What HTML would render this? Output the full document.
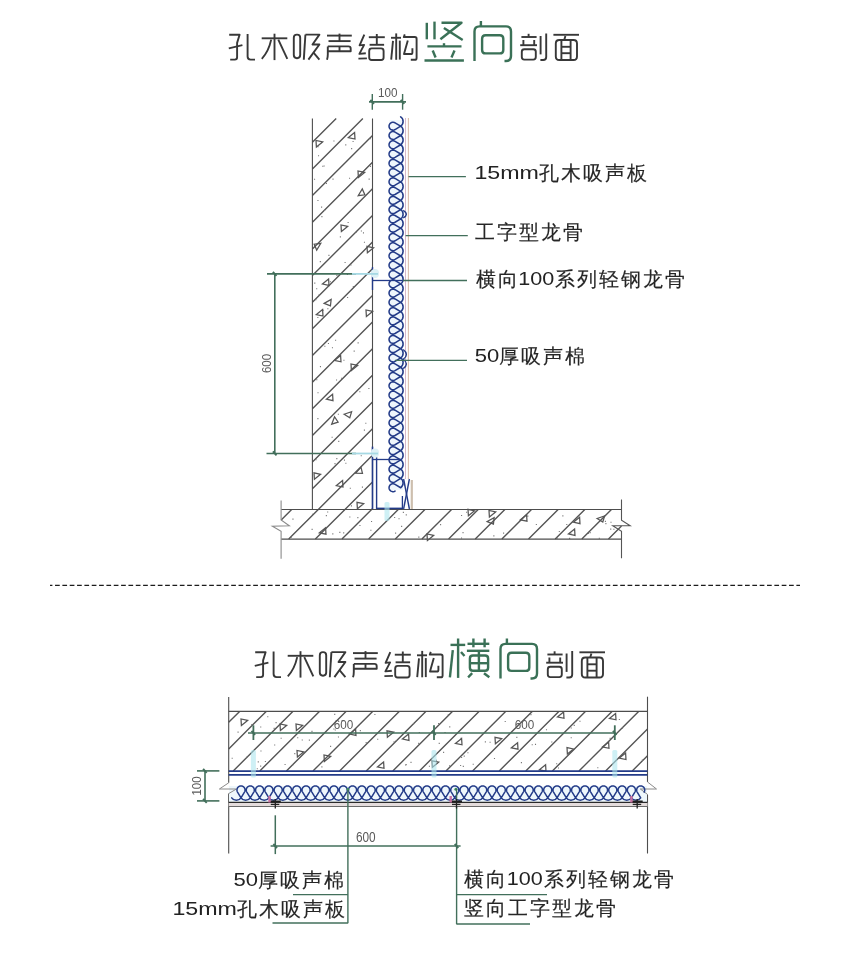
<!DOCTYPE html>
<html><head><meta charset="utf-8"><style>
html,body{margin:0;padding:0;background:#fff;width:850px;height:971px;overflow:hidden}
body{position:relative;font-family:"Liberation Sans",sans-serif}
svg text{font-family:"Liberation Sans",sans-serif}
.t,.t2,.tg{position:absolute;white-space:nowrap;line-height:1}
.t{font-size:29px;color:#3a3a3a;letter-spacing:3px}
.t2{font-size:29px;color:#3a3a3a;letter-spacing:0px}
.tg{font-size:45px;color:#356b52;letter-spacing:3px}
</style></head><body>
<svg width="850" height="971" viewBox="0 0 850 971" style="position:absolute;left:0;top:0;will-change:transform">
<path d="M312.4 142.3L336.2 118.5M312.4 168.95L362.85 118.5M312.4 195.6L372.5 135.5M312.4 222.25L372.5 162.15M312.4 248.9L372.5 188.8M312.4 275.55L372.5 215.45M312.4 302.2L372.5 242.1M312.4 328.85L372.5 268.75M312.4 355.5L372.5 295.4M312.4 382.15L372.5 322.05M312.4 408.8L372.5 348.7M312.4 435.45L372.5 375.35M312.4 462.1L372.5 402M312.4 488.75L372.5 428.65M318.3 509.5L372.5 455.3M344.95 509.5L372.5 481.95M371.6 509.5L372.5 508.6" stroke="#555" stroke-width="1.4" fill="none"/>
<path d="M281.2 519.95L291.65 509.5M288.7 539.1L318.3 509.5M315.35 539.1L344.95 509.5M342 539.1L371.6 509.5M368.65 539.1L398.25 509.5M395.3 539.1L424.9 509.5M421.95 539.1L451.55 509.5M448.6 539.1L478.2 509.5M475.25 539.1L504.85 509.5M501.9 539.1L531.5 509.5M528.55 539.1L558.15 509.5M555.2 539.1L584.8 509.5M581.85 539.1L611.45 509.5M608.5 539.1L621.5 526.1" stroke="#555" stroke-width="1.4" fill="none"/>
<path d="M332.46 178.53h1.1v1.1h-1.1zM351.1 148.11h1.1v1.1h-1.1zM344.55 261.89h1.1v1.1h-1.1zM317.31 316.89h1.1v1.1h-1.1zM316.14 288.25h1.1v1.1h-1.1zM317.98 155.2h1.1v1.1h-1.1zM338.2 440.82h1.1v1.1h-1.1zM321.06 206.62h1.1v1.1h-1.1zM349.76 487.71h1.1v1.1h-1.1zM346.89 273.91h1.1v1.1h-1.1zM369.65 138.07h1.1v1.1h-1.1zM362.93 232.37h1.1v1.1h-1.1zM322.22 165.7h1.1v1.1h-1.1zM331.58 436.66h1.1v1.1h-1.1zM324.3 345.66h1.1v1.1h-1.1zM350.42 264.49h1.1v1.1h-1.1zM345.22 144.36h1.1v1.1h-1.1zM317.4 199.91h1.1v1.1h-1.1zM352.78 285.91h1.1v1.1h-1.1zM331.91 347.2h1.1v1.1h-1.1zM339.83 236.31h1.1v1.1h-1.1zM359.28 391.21h1.1v1.1h-1.1zM327.91 342.88h1.1v1.1h-1.1zM343.94 459.55h1.1v1.1h-1.1zM355.58 231.72h1.1v1.1h-1.1zM369.87 165.81h1.1v1.1h-1.1zM337.83 413.77h1.1v1.1h-1.1zM322.66 309.72h1.1v1.1h-1.1zM316.23 379.27h1.1v1.1h-1.1zM357.58 342.33h1.1v1.1h-1.1zM363.9 241.73h1.1v1.1h-1.1zM353.63 350.62h1.1v1.1h-1.1zM347.05 297.01h1.1v1.1h-1.1zM361.88 486.54h1.1v1.1h-1.1zM341.02 377.69h1.1v1.1h-1.1zM317.46 392.18h1.1v1.1h-1.1zM350.89 505.32h1.1v1.1h-1.1zM360.85 230.42h1.1v1.1h-1.1zM335.99 379.44h1.1v1.1h-1.1zM315.29 299.14h1.1v1.1h-1.1zM323.58 165.43h1.1v1.1h-1.1zM317.36 418.07h1.1v1.1h-1.1zM321.37 216.07h1.1v1.1h-1.1zM336.28 458.11h1.1v1.1h-1.1zM318.59 294.28h1.1v1.1h-1.1zM345.32 462.75h1.1v1.1h-1.1zM360.7 455.23h1.1v1.1h-1.1zM329.87 281.14h1.1v1.1h-1.1zM334.45 463.07h1.1v1.1h-1.1zM368.59 178.56h1.1v1.1h-1.1zM324.04 210h1.1v1.1h-1.1zM327.3 308.17h1.1v1.1h-1.1zM347.58 221.95h1.1v1.1h-1.1zM314.23 282.55h1.1v1.1h-1.1zM335.05 339.74h1.1v1.1h-1.1zM368.33 387.91h1.1v1.1h-1.1zM343.38 359.63h1.1v1.1h-1.1zM352.54 140.95h1.1v1.1h-1.1zM365.27 422.63h1.1v1.1h-1.1zM363.85 429.57h1.1v1.1h-1.1zM336.37 274.8h1.1v1.1h-1.1zM319.9 366.1h1.1v1.1h-1.1zM317.55 146.13h1.1v1.1h-1.1zM325.9 182.97h1.1v1.1h-1.1zM333.38 140.4h1.1v1.1h-1.1zM314.01 178.69h1.1v1.1h-1.1zM319.78 261.08h1.1v1.1h-1.1zM315.45 459.24h1.1v1.1h-1.1zM349 177.64h1.1v1.1h-1.1zM328.38 254.79h1.1v1.1h-1.1z" fill="#777"/>
<path d="M405.72 514.32h1.1v1.1h-1.1zM569.09 537.81h1.1v1.1h-1.1zM440.04 524.06h1.1v1.1h-1.1zM311.94 513.76h1.1v1.1h-1.1zM398.47 518.15h1.1v1.1h-1.1zM562.32 515.36h1.1v1.1h-1.1zM290.78 536.68h1.1v1.1h-1.1zM461.02 514.96h1.1v1.1h-1.1zM466.05 511.73h1.1v1.1h-1.1zM460.97 537.42h1.1v1.1h-1.1zM573.94 529.8h1.1v1.1h-1.1zM371 520.9h1.1v1.1h-1.1zM339.29 531.84h1.1v1.1h-1.1zM462.48 532.03h1.1v1.1h-1.1zM394.1 517.02h1.1v1.1h-1.1zM556.48 537.59h1.1v1.1h-1.1zM570.34 532.76h1.1v1.1h-1.1zM558.78 530.98h1.1v1.1h-1.1zM359.41 524.98h1.1v1.1h-1.1zM402.82 511.78h1.1v1.1h-1.1zM292.41 518.54h1.1v1.1h-1.1zM370.34 529.7h1.1v1.1h-1.1zM605.35 523.08h1.1v1.1h-1.1zM598.78 537.68h1.1v1.1h-1.1zM604.84 520.85h1.1v1.1h-1.1zM357.3 517.12h1.1v1.1h-1.1zM349.29 516.52h1.1v1.1h-1.1zM493.31 535.31h1.1v1.1h-1.1zM566.23 523.95h1.1v1.1h-1.1zM503.05 532.59h1.1v1.1h-1.1zM311.57 528.84h1.1v1.1h-1.1zM589.59 532.12h1.1v1.1h-1.1zM535.8 523.91h1.1v1.1h-1.1zM343.16 532.31h1.1v1.1h-1.1zM395.06 532.62h1.1v1.1h-1.1zM610.45 521.69h1.1v1.1h-1.1zM418.27 536.56h1.1v1.1h-1.1zM527.26 515.59h1.1v1.1h-1.1zM325.81 515.08h1.1v1.1h-1.1zM587.94 532.78h1.1v1.1h-1.1zM332.26 533.32h1.1v1.1h-1.1zM613.36 528.75h1.1v1.1h-1.1zM401.09 525.81h1.1v1.1h-1.1zM327.14 511.38h1.1v1.1h-1.1zM610.19 528.54h1.1v1.1h-1.1z" fill="#777"/>
<line x1="312.4" y1="118.5" x2="312.4" y2="509.5" stroke="#4d4d4d" stroke-width="1.1"/>
<line x1="372.5" y1="118.5" x2="372.5" y2="509.5" stroke="#4d4d4d" stroke-width="1.1"/>
<line x1="281.2" y1="509.5" x2="621.5" y2="509.5" stroke="#4d4d4d" stroke-width="1.2"/>
<line x1="281.2" y1="539.1" x2="621.5" y2="539.1" stroke="#4d4d4d" stroke-width="1.2"/>
<path d="M281.1 500.4V520L289.3 525.8L272.4 526.2L281.1 531.4V558.7" fill="none" stroke="#8a8a8a" stroke-width="1.1"/>
<path d="M621.5 499.4V520.1L630.2 525.8L612.8 525.8L621.5 531.4V558.2" fill="none" stroke="#555" stroke-width="1.1"/>
<polygon points="322.6,141.9 316.4,146.9 316,140.5" fill="none" stroke="#555" stroke-width="1.25" stroke-linejoin="miter"/>
<polygon points="348.4,137.6 354.6,132.6 355,139" fill="none" stroke="#555" stroke-width="1.25" stroke-linejoin="miter"/>
<polygon points="364.6,172.4 358.4,177.4 358,171" fill="none" stroke="#555" stroke-width="1.25" stroke-linejoin="miter"/>
<polygon points="358.16,195.73 362.28,188.92 364.85,194.79" fill="none" stroke="#555" stroke-width="1.25" stroke-linejoin="miter"/>
<polygon points="347.6,226.4 341.4,231.4 341,225" fill="none" stroke="#555" stroke-width="1.25" stroke-linejoin="miter"/>
<polygon points="320.84,243.27 316.72,250.08 314.15,244.21" fill="none" stroke="#555" stroke-width="1.25" stroke-linejoin="miter"/>
<polygon points="373.6,247.8 367.4,252.8 367,246.4" fill="none" stroke="#555" stroke-width="1.25" stroke-linejoin="miter"/>
<polygon points="322.4,284 328.6,279 329,285.4" fill="none" stroke="#555" stroke-width="1.25" stroke-linejoin="miter"/>
<polygon points="324.18,303.35 331.15,299.5 330.43,305.88" fill="none" stroke="#555" stroke-width="1.25" stroke-linejoin="miter"/>
<polygon points="316.4,314.6 322.6,309.6 323,316" fill="none" stroke="#555" stroke-width="1.25" stroke-linejoin="miter"/>
<polygon points="372.6,311.4 366.4,316.4 366,310" fill="none" stroke="#555" stroke-width="1.25" stroke-linejoin="miter"/>
<polygon points="334.4,360.4 340.6,355.4 341,361.8" fill="none" stroke="#555" stroke-width="1.25" stroke-linejoin="miter"/>
<polygon points="357.6,365.4 351.4,370.4 351,364" fill="none" stroke="#555" stroke-width="1.25" stroke-linejoin="miter"/>
<polygon points="326.4,399.2 332.6,394.2 333,400.6" fill="none" stroke="#555" stroke-width="1.25" stroke-linejoin="miter"/>
<polygon points="344.07,414.27 351.61,411.69 349.79,417.85" fill="none" stroke="#555" stroke-width="1.25" stroke-linejoin="miter"/>
<polygon points="331.68,424.19 334.55,416.76 338.1,422.1" fill="none" stroke="#555" stroke-width="1.25" stroke-linejoin="miter"/>
<polygon points="320.6,474.3 314.4,479.3 314,472.9" fill="none" stroke="#555" stroke-width="1.25" stroke-linejoin="miter"/>
<polygon points="336.4,485.6 342.6,480.6 343,487" fill="none" stroke="#555" stroke-width="1.25" stroke-linejoin="miter"/>
<polygon points="355.73,473.2 360.97,467.2 362.48,473.43" fill="none" stroke="#555" stroke-width="1.25" stroke-linejoin="miter"/>
<polygon points="363.6,503.7 357.4,508.7 357,502.3" fill="none" stroke="#555" stroke-width="1.25" stroke-linejoin="miter"/>
<polygon points="319.4,532.8 325.6,527.8 326,534.2" fill="none" stroke="#555" stroke-width="1.25" stroke-linejoin="miter"/>
<polygon points="433.6,535.4 427.4,540.4 427,534" fill="none" stroke="#555" stroke-width="1.25" stroke-linejoin="miter"/>
<polygon points="474.6,510.8 468.4,515.8 468,509.4" fill="none" stroke="#555" stroke-width="1.25" stroke-linejoin="miter"/>
<polygon points="495.6,511.9 489.4,516.9 489,510.5" fill="none" stroke="#555" stroke-width="1.25" stroke-linejoin="miter"/>
<polygon points="487.18,521.55 494.15,517.7 493.43,524.08" fill="none" stroke="#555" stroke-width="1.25" stroke-linejoin="miter"/>
<polygon points="520.4,519.8 526.6,514.8 527,521.2" fill="none" stroke="#555" stroke-width="1.25" stroke-linejoin="miter"/>
<polygon points="573.4,522.2 579.6,517.2 580,523.6" fill="none" stroke="#555" stroke-width="1.25" stroke-linejoin="miter"/>
<polygon points="568.4,534 574.6,529 575,535.4" fill="none" stroke="#555" stroke-width="1.25" stroke-linejoin="miter"/>
<polygon points="597.07,518.47 604.61,515.89 602.79,522.05" fill="none" stroke="#555" stroke-width="1.25" stroke-linejoin="miter"/>
<rect x="389.5" y="120" width="13.5" height="370" fill="#eef6fc"/>
<path d="M400.65 126.2L395.04 129.58L394.2 129.96L393.29 130.14L392.36 130.1L391.47 129.84L390.67 129.39L389.99 128.76L389.48 127.99L389.16 127.12L389.05 126.2L389.16 125.28L389.48 124.41L389.99 123.64L390.67 123.01L391.47 122.56L392.36 122.3L393.29 122.26L394.2 122.44L395.04 122.82L400.65 126.2M400.65 135.47L395.04 138.85L394.2 139.23L393.29 139.41L392.36 139.37L391.47 139.11L390.67 138.66L389.99 138.03L389.48 137.26L389.16 136.39L389.05 135.47L389.16 134.55L389.48 133.68L389.99 132.91L390.67 132.28L391.47 131.83L392.36 131.57L393.29 131.53L394.2 131.71L395.04 132.09L400.65 135.47M400.65 144.74L395.04 148.12L394.2 148.5L393.29 148.68L392.36 148.64L391.47 148.38L390.67 147.93L389.99 147.3L389.48 146.53L389.16 145.66L389.05 144.74L389.16 143.82L389.48 142.95L389.99 142.18L390.67 141.55L391.47 141.1L392.36 140.84L393.29 140.8L394.2 140.98L395.04 141.36L400.65 144.74M400.65 154.01L395.04 157.39L394.2 157.77L393.29 157.95L392.36 157.91L391.47 157.65L390.67 157.2L389.99 156.57L389.48 155.8L389.16 154.93L389.05 154.01L389.16 153.09L389.48 152.22L389.99 151.45L390.67 150.82L391.47 150.37L392.36 150.11L393.29 150.07L394.2 150.25L395.04 150.63L400.65 154.01M400.65 163.28L395.04 166.66L394.2 167.04L393.29 167.22L392.36 167.18L391.47 166.92L390.67 166.47L389.99 165.84L389.48 165.07L389.16 164.2L389.05 163.28L389.16 162.36L389.48 161.49L389.99 160.72L390.67 160.09L391.47 159.64L392.36 159.38L393.29 159.34L394.2 159.52L395.04 159.9L400.65 163.28M400.65 172.55L395.04 175.93L394.2 176.31L393.29 176.49L392.36 176.45L391.47 176.19L390.67 175.74L389.99 175.11L389.48 174.34L389.16 173.47L389.05 172.55L389.16 171.63L389.48 170.76L389.99 169.99L390.67 169.36L391.47 168.91L392.36 168.65L393.29 168.61L394.2 168.79L395.04 169.17L400.65 172.55M400.65 181.82L395.04 185.2L394.2 185.58L393.29 185.76L392.36 185.72L391.47 185.46L390.67 185.01L389.99 184.38L389.48 183.61L389.16 182.74L389.05 181.82L389.16 180.9L389.48 180.03L389.99 179.26L390.67 178.63L391.47 178.18L392.36 177.92L393.29 177.88L394.2 178.06L395.04 178.44L400.65 181.82M400.65 191.09L395.04 194.47L394.2 194.85L393.29 195.03L392.36 194.99L391.47 194.73L390.67 194.28L389.99 193.65L389.48 192.88L389.16 192.01L389.05 191.09L389.16 190.17L389.48 189.3L389.99 188.53L390.67 187.9L391.47 187.45L392.36 187.19L393.29 187.15L394.2 187.33L395.04 187.71L400.65 191.09M400.65 200.36L395.04 203.74L394.2 204.12L393.29 204.3L392.36 204.26L391.47 204L390.67 203.55L389.99 202.92L389.48 202.15L389.16 201.28L389.05 200.36L389.16 199.44L389.48 198.57L389.99 197.8L390.67 197.17L391.47 196.72L392.36 196.46L393.29 196.42L394.2 196.6L395.04 196.98L400.65 200.36M400.65 209.63L395.04 213.01L394.2 213.39L393.29 213.57L392.36 213.53L391.47 213.27L390.67 212.82L389.99 212.19L389.48 211.42L389.16 210.55L389.05 209.63L389.16 208.71L389.48 207.84L389.99 207.07L390.67 206.44L391.47 205.99L392.36 205.73L393.29 205.69L394.2 205.87L395.04 206.25L400.65 209.63M400.65 218.9L395.04 222.28L394.2 222.66L393.29 222.84L392.36 222.8L391.47 222.54L390.67 222.09L389.99 221.46L389.48 220.69L389.16 219.82L389.05 218.9L389.16 217.98L389.48 217.11L389.99 216.34L390.67 215.71L391.47 215.26L392.36 215L393.29 214.96L394.2 215.14L395.04 215.52L400.65 218.9M400.65 228.17L395.04 231.55L394.2 231.93L393.29 232.11L392.36 232.07L391.47 231.81L390.67 231.36L389.99 230.73L389.48 229.96L389.16 229.09L389.05 228.17L389.16 227.25L389.48 226.38L389.99 225.61L390.67 224.98L391.47 224.53L392.36 224.27L393.29 224.23L394.2 224.41L395.04 224.79L400.65 228.17M400.65 237.44L395.04 240.82L394.2 241.2L393.29 241.38L392.36 241.34L391.47 241.08L390.67 240.63L389.99 240L389.48 239.23L389.16 238.36L389.05 237.44L389.16 236.52L389.48 235.65L389.99 234.88L390.67 234.25L391.47 233.8L392.36 233.54L393.29 233.5L394.2 233.68L395.04 234.06L400.65 237.44M400.65 246.71L395.04 250.09L394.2 250.47L393.29 250.65L392.36 250.61L391.47 250.35L390.67 249.9L389.99 249.27L389.48 248.5L389.16 247.63L389.05 246.71L389.16 245.79L389.48 244.92L389.99 244.15L390.67 243.52L391.47 243.07L392.36 242.81L393.29 242.77L394.2 242.95L395.04 243.33L400.65 246.71M400.65 255.98L395.04 259.36L394.2 259.74L393.29 259.92L392.36 259.88L391.47 259.62L390.67 259.17L389.99 258.54L389.48 257.77L389.16 256.9L389.05 255.98L389.16 255.06L389.48 254.19L389.99 253.42L390.67 252.79L391.47 252.34L392.36 252.08L393.29 252.04L394.2 252.22L395.04 252.6L400.65 255.98M400.65 265.25L395.04 268.63L394.2 269.01L393.29 269.19L392.36 269.15L391.47 268.89L390.67 268.44L389.99 267.81L389.48 267.04L389.16 266.17L389.05 265.25L389.16 264.33L389.48 263.46L389.99 262.69L390.67 262.06L391.47 261.61L392.36 261.35L393.29 261.31L394.2 261.49L395.04 261.87L400.65 265.25M400.65 274.52L395.04 277.9L394.2 278.28L393.29 278.46L392.36 278.42L391.47 278.16L390.67 277.71L389.99 277.08L389.48 276.31L389.16 275.44L389.05 274.52L389.16 273.6L389.48 272.73L389.99 271.96L390.67 271.33L391.47 270.88L392.36 270.62L393.29 270.58L394.2 270.76L395.04 271.14L400.65 274.52M400.65 283.79L395.04 287.17L394.2 287.55L393.29 287.73L392.36 287.69L391.47 287.43L390.67 286.98L389.99 286.35L389.48 285.58L389.16 284.71L389.05 283.79L389.16 282.87L389.48 282L389.99 281.23L390.67 280.6L391.47 280.15L392.36 279.89L393.29 279.85L394.2 280.03L395.04 280.41L400.65 283.79M400.65 293.06L395.04 296.44L394.2 296.82L393.29 297L392.36 296.96L391.47 296.7L390.67 296.25L389.99 295.62L389.48 294.85L389.16 293.98L389.05 293.06L389.16 292.14L389.48 291.27L389.99 290.5L390.67 289.87L391.47 289.42L392.36 289.16L393.29 289.12L394.2 289.3L395.04 289.68L400.65 293.06M400.65 302.33L395.04 305.71L394.2 306.09L393.29 306.27L392.36 306.23L391.47 305.97L390.67 305.52L389.99 304.89L389.48 304.12L389.16 303.25L389.05 302.33L389.16 301.41L389.48 300.54L389.99 299.77L390.67 299.14L391.47 298.69L392.36 298.43L393.29 298.39L394.2 298.57L395.04 298.95L400.65 302.33M400.65 311.6L395.04 314.98L394.2 315.36L393.29 315.54L392.36 315.5L391.47 315.24L390.67 314.79L389.99 314.16L389.48 313.39L389.16 312.52L389.05 311.6L389.16 310.68L389.48 309.81L389.99 309.04L390.67 308.41L391.47 307.96L392.36 307.7L393.29 307.66L394.2 307.84L395.04 308.22L400.65 311.6M400.65 320.87L395.04 324.25L394.2 324.63L393.29 324.81L392.36 324.77L391.47 324.51L390.67 324.06L389.99 323.43L389.48 322.66L389.16 321.79L389.05 320.87L389.16 319.95L389.48 319.08L389.99 318.31L390.67 317.68L391.47 317.23L392.36 316.97L393.29 316.93L394.2 317.11L395.04 317.49L400.65 320.87M400.65 330.14L395.04 333.52L394.2 333.9L393.29 334.08L392.36 334.04L391.47 333.78L390.67 333.33L389.99 332.7L389.48 331.93L389.16 331.06L389.05 330.14L389.16 329.22L389.48 328.35L389.99 327.58L390.67 326.95L391.47 326.5L392.36 326.24L393.29 326.2L394.2 326.38L395.04 326.76L400.65 330.14M400.65 339.41L395.04 342.79L394.2 343.17L393.29 343.35L392.36 343.31L391.47 343.05L390.67 342.6L389.99 341.97L389.48 341.2L389.16 340.33L389.05 339.41L389.16 338.49L389.48 337.62L389.99 336.85L390.67 336.22L391.47 335.77L392.36 335.51L393.29 335.47L394.2 335.65L395.04 336.03L400.65 339.41M400.65 348.68L395.04 352.06L394.2 352.44L393.29 352.62L392.36 352.58L391.47 352.32L390.67 351.87L389.99 351.24L389.48 350.47L389.16 349.6L389.05 348.68L389.16 347.76L389.48 346.89L389.99 346.12L390.67 345.49L391.47 345.04L392.36 344.78L393.29 344.74L394.2 344.92L395.04 345.3L400.65 348.68M400.65 357.95L395.04 361.33L394.2 361.71L393.29 361.89L392.36 361.85L391.47 361.59L390.67 361.14L389.99 360.51L389.48 359.74L389.16 358.87L389.05 357.95L389.16 357.03L389.48 356.16L389.99 355.39L390.67 354.76L391.47 354.31L392.36 354.05L393.29 354.01L394.2 354.19L395.04 354.57L400.65 357.95M400.65 367.22L395.04 370.6L394.2 370.98L393.29 371.16L392.36 371.12L391.47 370.86L390.67 370.41L389.99 369.78L389.48 369.01L389.16 368.14L389.05 367.22L389.16 366.3L389.48 365.43L389.99 364.66L390.67 364.03L391.47 363.58L392.36 363.32L393.29 363.28L394.2 363.46L395.04 363.84L400.65 367.22M400.65 376.49L395.04 379.87L394.2 380.25L393.29 380.43L392.36 380.39L391.47 380.13L390.67 379.68L389.99 379.05L389.48 378.28L389.16 377.41L389.05 376.49L389.16 375.57L389.48 374.7L389.99 373.93L390.67 373.3L391.47 372.85L392.36 372.59L393.29 372.55L394.2 372.73L395.04 373.11L400.65 376.49M400.65 385.76L395.04 389.14L394.2 389.52L393.29 389.7L392.36 389.66L391.47 389.4L390.67 388.95L389.99 388.32L389.48 387.55L389.16 386.68L389.05 385.76L389.16 384.84L389.48 383.97L389.99 383.2L390.67 382.57L391.47 382.12L392.36 381.86L393.29 381.82L394.2 382L395.04 382.38L400.65 385.76M400.65 395.03L395.04 398.41L394.2 398.79L393.29 398.97L392.36 398.93L391.47 398.67L390.67 398.22L389.99 397.59L389.48 396.82L389.16 395.95L389.05 395.03L389.16 394.11L389.48 393.24L389.99 392.47L390.67 391.84L391.47 391.39L392.36 391.13L393.29 391.09L394.2 391.27L395.04 391.65L400.65 395.03M400.65 404.3L395.04 407.68L394.2 408.06L393.29 408.24L392.36 408.2L391.47 407.94L390.67 407.49L389.99 406.86L389.48 406.09L389.16 405.22L389.05 404.3L389.16 403.38L389.48 402.51L389.99 401.74L390.67 401.11L391.47 400.66L392.36 400.4L393.29 400.36L394.2 400.54L395.04 400.92L400.65 404.3M400.65 413.57L395.04 416.95L394.2 417.33L393.29 417.51L392.36 417.47L391.47 417.21L390.67 416.76L389.99 416.13L389.48 415.36L389.16 414.49L389.05 413.57L389.16 412.65L389.48 411.78L389.99 411.01L390.67 410.38L391.47 409.93L392.36 409.67L393.29 409.63L394.2 409.81L395.04 410.19L400.65 413.57M400.65 422.84L395.04 426.22L394.2 426.6L393.29 426.78L392.36 426.74L391.47 426.48L390.67 426.03L389.99 425.4L389.48 424.63L389.16 423.76L389.05 422.84L389.16 421.92L389.48 421.05L389.99 420.28L390.67 419.65L391.47 419.2L392.36 418.94L393.29 418.9L394.2 419.08L395.04 419.46L400.65 422.84M400.65 432.11L395.04 435.49L394.2 435.87L393.29 436.05L392.36 436.01L391.47 435.75L390.67 435.3L389.99 434.67L389.48 433.9L389.16 433.03L389.05 432.11L389.16 431.19L389.48 430.32L389.99 429.55L390.67 428.92L391.47 428.47L392.36 428.21L393.29 428.17L394.2 428.35L395.04 428.73L400.65 432.11M400.65 441.38L395.04 444.76L394.2 445.14L393.29 445.32L392.36 445.28L391.47 445.02L390.67 444.57L389.99 443.94L389.48 443.17L389.16 442.3L389.05 441.38L389.16 440.46L389.48 439.59L389.99 438.82L390.67 438.19L391.47 437.74L392.36 437.48L393.29 437.44L394.2 437.62L395.04 438L400.65 441.38M400.65 450.65L395.04 454.03L394.2 454.41L393.29 454.59L392.36 454.55L391.47 454.29L390.67 453.84L389.99 453.21L389.48 452.44L389.16 451.57L389.05 450.65L389.16 449.73L389.48 448.86L389.99 448.09L390.67 447.46L391.47 447.01L392.36 446.75L393.29 446.71L394.2 446.89L395.04 447.27L400.65 450.65M400.65 459.92L395.04 463.3L394.2 463.68L393.29 463.86L392.36 463.82L391.47 463.56L390.67 463.11L389.99 462.48L389.48 461.71L389.16 460.84L389.05 459.92L389.16 459L389.48 458.13L389.99 457.36L390.67 456.73L391.47 456.28L392.36 456.02L393.29 455.98L394.2 456.16L395.04 456.54L400.65 459.92M400.65 469.19L395.04 472.57L394.2 472.95L393.29 473.13L392.36 473.09L391.47 472.83L390.67 472.38L389.99 471.75L389.48 470.98L389.16 470.11L389.05 469.19L389.16 468.27L389.48 467.4L389.99 466.63L390.67 466L391.47 465.55L392.36 465.29L393.29 465.25L394.2 465.43L395.04 465.81L400.65 469.19M400.65 478.46L395.04 481.84L394.2 482.22L393.29 482.4L392.36 482.36L391.47 482.1L390.67 481.65L389.99 481.02L389.48 480.25L389.16 479.38L389.05 478.46L389.16 477.54L389.48 476.67L389.99 475.9L390.67 475.27L391.47 474.82L392.36 474.56L393.29 474.52L394.2 474.7L395.04 475.08L400.65 478.46M395.04 491.11L394.2 491.49L393.29 491.67L392.36 491.63L391.47 491.37L390.67 490.92L389.99 490.29L389.48 489.52L389.16 488.65L389.05 487.73L389.16 486.81L389.48 485.94L389.99 485.17L390.67 484.54L391.47 484.09L392.36 483.83L393.29 483.79L394.2 483.97L395.04 484.35L400.65 487.73M400.65 116.93C403.92 118.9 403.92 124.23 400.65 126.2M400.65 126.2C403.92 128.17 403.92 133.5 400.65 135.47M400.65 135.47C403.92 137.44 403.92 142.77 400.65 144.74M400.65 144.74C403.92 146.71 403.92 152.04 400.65 154.01M400.65 154.01C403.92 155.98 403.92 161.31 400.65 163.28M400.65 163.28C403.92 165.25 403.92 170.58 400.65 172.55M400.65 172.55C403.92 174.52 403.92 179.85 400.65 181.82M400.65 181.82C403.92 183.79 403.92 189.12 400.65 191.09M400.65 191.09C403.92 193.06 403.92 198.39 400.65 200.36M400.65 200.36C403.92 202.33 403.92 207.66 400.65 209.63M400.65 209.63C403.92 211.6 403.92 216.93 400.65 218.9M400.65 218.9C403.92 220.87 403.92 226.2 400.65 228.17M400.65 228.17C403.92 230.14 403.92 235.47 400.65 237.44M400.65 237.44C403.92 239.41 403.92 244.74 400.65 246.71M400.65 246.71C403.92 248.68 403.92 254.01 400.65 255.98M400.65 255.98C403.92 257.95 403.92 263.28 400.65 265.25M400.65 265.25C403.92 267.22 403.92 272.55 400.65 274.52M400.65 274.52C403.92 276.49 403.92 281.82 400.65 283.79M400.65 283.79C403.92 285.76 403.92 291.09 400.65 293.06M400.65 293.06C403.92 295.03 403.92 300.36 400.65 302.33M400.65 302.33C403.92 304.3 403.92 309.63 400.65 311.6M400.65 311.6C403.92 313.57 403.92 318.9 400.65 320.87M400.65 320.87C403.92 322.84 403.92 328.17 400.65 330.14M400.65 330.14C403.92 332.11 403.92 337.44 400.65 339.41M400.65 339.41C403.92 341.38 403.92 346.71 400.65 348.68M400.65 348.68C403.92 350.65 403.92 355.98 400.65 357.95M400.65 357.95C403.92 359.92 403.92 365.25 400.65 367.22M400.65 367.22C403.92 369.19 403.92 374.52 400.65 376.49M400.65 376.49C403.92 378.46 403.92 383.79 400.65 385.76M400.65 385.76C403.92 387.73 403.92 393.06 400.65 395.03M400.65 395.03C403.92 397 403.92 402.33 400.65 404.3M400.65 404.3C403.92 406.27 403.92 411.6 400.65 413.57M400.65 413.57C403.92 415.54 403.92 420.87 400.65 422.84M400.65 422.84C403.92 424.81 403.92 430.14 400.65 432.11M400.65 432.11C403.92 434.08 403.92 439.41 400.65 441.38M400.65 441.38C403.92 443.35 403.92 448.68 400.65 450.65M400.65 450.65C403.92 452.62 403.92 457.95 400.65 459.92M400.65 459.92C403.92 461.89 403.92 467.22 400.65 469.19M400.65 469.19C403.92 471.16 403.92 476.49 400.65 478.46M400.65 478.46C403.92 480.43 403.92 485.76 400.65 487.73" stroke="#233b88" stroke-width="1.55" fill="none" stroke-linecap="round" stroke-linejoin="round"/>
<line x1="405.5" y1="118" x2="405.5" y2="479" stroke="#d6b8cc" stroke-width="1"/>
<line x1="408.4" y1="118" x2="408.4" y2="479" stroke="#dbbfac" stroke-width="1.1"/>
<path d="M403.2 210.3Q409.6 214.2 403.2 218M403.2 349.5Q409.6 354.4 403.2 359.3Q409.6 364 403.2 368.6" fill="none" stroke="#233b88" stroke-width="1.4"/>
<line x1="372.5" y1="446.6" x2="372.5" y2="509" stroke="#233b88" stroke-width="1.6"/>
<line x1="376.6" y1="457.3" x2="376.6" y2="509" stroke="#233b88" stroke-width="1.4"/>
<line x1="372.5" y1="459.5" x2="401" y2="459.5" stroke="#233b88" stroke-width="1.3"/>
<line x1="376" y1="508.4" x2="402" y2="508.4" stroke="#233b88" stroke-width="1.6"/>
<line x1="402.4" y1="496" x2="402.4" y2="509" stroke="#233b88" stroke-width="1.3"/>
<line x1="403.6" y1="479" x2="409.4" y2="509" stroke="#233b88" stroke-width="1.4"/>
<line x1="409.4" y1="479" x2="403.6" y2="509" stroke="#233b88" stroke-width="1.4"/>
<line x1="411.8" y1="480" x2="411.8" y2="509" stroke="#cdbfae" stroke-width="2.2"/>
<line x1="372.5" y1="267" x2="372.5" y2="290" stroke="#233b88" stroke-width="1.4"/>
<line x1="372.5" y1="280.5" x2="402" y2="280.5" stroke="#233b88" stroke-width="1.3"/>
<rect x="384.5" y="502" width="5" height="19" rx="1.5" fill="#aee6ee" opacity="0.6"/>
<rect x="371" y="269" width="8" height="9" rx="4" fill="#ddf1f6"/>
<rect x="371" y="448.5" width="8" height="9" rx="4" fill="#ddf1f6"/>
<line x1="369" y1="101.9" x2="406" y2="101.9" stroke="#426f5b" stroke-width="1.6"/>
<line x1="372.3" y1="94" x2="372.3" y2="109.7" stroke="#426f5b" stroke-width="1.4"/>
<line x1="402.6" y1="94" x2="402.6" y2="109.7" stroke="#426f5b" stroke-width="1.4"/>
<text x="378" y="97" font-size="12" fill="#5a5a5a" textLength="19.5" lengthAdjust="spacingAndGlyphs">100</text>
<line x1="267" y1="273.9" x2="356" y2="273.9" stroke="#426f5b" stroke-width="1.6"/>
<line x1="352" y1="273.9" x2="378" y2="273.9" stroke="#a6d9e4" stroke-width="1.8"/>
<line x1="266.5" y1="453.5" x2="356" y2="453.5" stroke="#426f5b" stroke-width="1.6"/>
<line x1="352" y1="453.5" x2="378" y2="453.5" stroke="#a6d9e4" stroke-width="1.8"/>
<line x1="274.8" y1="273.9" x2="274.8" y2="453.5" stroke="#426f5b" stroke-width="1.6"/>
<text x="270.7" y="373" font-size="13.5" fill="#5a5a5a" textLength="19" lengthAdjust="spacingAndGlyphs" transform="rotate(-90 270.7 373)">600</text>
<line x1="408.5" y1="176.6" x2="465.9" y2="176.6" stroke="#426f5b" stroke-width="1.3"/>
<line x1="405.6" y1="235.6" x2="467.8" y2="235.6" stroke="#426f5b" stroke-width="1.3"/>
<line x1="403" y1="280.5" x2="467" y2="280.5" stroke="#426f5b" stroke-width="1.3"/>
<line x1="395" y1="360.3" x2="467" y2="360.3" stroke="#426f5b" stroke-width="1.3"/>
<text x="474.4" y="179.4" font-size="18.6" textLength="64.5" lengthAdjust="spacingAndGlyphs" fill="#222">15mm</text><text x="539" y="180.4" font-size="20" letter-spacing="2" fill="#262626" stroke="#262626" stroke-width="0.15">孔木吸声板</text>
<text x="475" y="239.2" font-size="20" letter-spacing="2" fill="#262626" stroke="#262626" stroke-width="0.15">工字型龙骨</text>
<text x="475.5" y="285.7" font-size="20" letter-spacing="2" fill="#262626" stroke="#262626" stroke-width="0.15">横向</text><text x="518.3" y="284.7" font-size="18.6" textLength="36" lengthAdjust="spacingAndGlyphs" fill="#222">100</text><text x="555" y="285.7" font-size="20" letter-spacing="2" fill="#262626" stroke="#262626" stroke-width="0.15">系列轻钢龙骨</text>
<text x="474.8" y="361.8" font-size="18.6" textLength="24.5" lengthAdjust="spacingAndGlyphs" fill="#222">50</text><text x="499" y="362.8" font-size="20" letter-spacing="2" fill="#262626" stroke="#262626" stroke-width="0.15">厚吸声棉</text>
<line x1="50" y1="585.4" x2="800" y2="585.4" stroke="#1c1c1c" stroke-width="1.35" stroke-dasharray="4.7 2.64" stroke-dashoffset="2.3"/>
<path d="M228.7 722.3L239.6 711.4M228.7 748.9L266.2 711.4M233.2 771L292.8 711.4M259.8 771L319.4 711.4M286.4 771L346 711.4M313 771L372.6 711.4M339.6 771L399.2 711.4M366.2 771L425.8 711.4M392.8 771L452.4 711.4M419.4 771L479 711.4M446 771L505.6 711.4M472.6 771L532.2 711.4M499.2 771L558.8 711.4M525.8 771L585.4 711.4M552.4 771L612 711.4M579 771L638.6 711.4M605.6 771L647.5 729.1M632.2 771L647.5 755.7" stroke="#555" stroke-width="1.4" fill="none"/>
<path d="M449.06 765.28h1.1v1.1h-1.1zM410.46 761.82h1.1v1.1h-1.1zM573.68 724.82h1.1v1.1h-1.1zM334.76 729.41h1.1v1.1h-1.1zM330.06 745.84h1.1v1.1h-1.1zM337.9 736.46h1.1v1.1h-1.1zM284.53 763.96h1.1v1.1h-1.1zM377.17 738.66h1.1v1.1h-1.1zM472.67 763.64h1.1v1.1h-1.1zM404.98 764.39h1.1v1.1h-1.1zM438.69 742.78h1.1v1.1h-1.1zM447.78 714.05h1.1v1.1h-1.1zM413.09 723.25h1.1v1.1h-1.1zM231.64 757.75h1.1v1.1h-1.1zM301.7 739.52h1.1v1.1h-1.1zM531.68 744.16h1.1v1.1h-1.1zM365.61 742.03h1.1v1.1h-1.1zM461.06 756.92h1.1v1.1h-1.1zM274.14 744.38h1.1v1.1h-1.1zM333.37 728.51h1.1v1.1h-1.1zM551.26 741.43h1.1v1.1h-1.1zM463.68 755.56h1.1v1.1h-1.1zM609.6 737.82h1.1v1.1h-1.1zM484.81 741.31h1.1v1.1h-1.1zM443.06 751.79h1.1v1.1h-1.1zM418.18 742.86h1.1v1.1h-1.1zM428.86 765.72h1.1v1.1h-1.1zM520.87 762.09h1.1v1.1h-1.1zM621.95 727.54h1.1v1.1h-1.1zM462.76 765.82h1.1v1.1h-1.1zM579.44 720.68h1.1v1.1h-1.1zM280.59 737.76h1.1v1.1h-1.1zM260.18 726.48h1.1v1.1h-1.1zM260.42 750.49h1.1v1.1h-1.1zM556.12 763.23h1.1v1.1h-1.1zM294.25 753.1h1.1v1.1h-1.1zM504.67 721.01h1.1v1.1h-1.1zM597.26 767.18h1.1v1.1h-1.1zM321.35 766.34h1.1v1.1h-1.1zM395.67 740.29h1.1v1.1h-1.1zM641.79 759.62h1.1v1.1h-1.1zM297.17 737.17h1.1v1.1h-1.1zM444.49 731.99h1.1v1.1h-1.1zM311.43 730.84h1.1v1.1h-1.1zM530.41 714.09h1.1v1.1h-1.1zM460.48 737.67h1.1v1.1h-1.1zM237.52 731.56h1.1v1.1h-1.1zM489.55 741.69h1.1v1.1h-1.1zM256.74 768.16h1.1v1.1h-1.1zM557.96 767.41h1.1v1.1h-1.1zM273.59 727.87h1.1v1.1h-1.1zM246.47 756.62h1.1v1.1h-1.1zM342.51 720.26h1.1v1.1h-1.1zM405.66 764.04h1.1v1.1h-1.1zM570.7 727.48h1.1v1.1h-1.1zM292.14 764.47h1.1v1.1h-1.1zM467.37 752.22h1.1v1.1h-1.1zM267.22 716.22h1.1v1.1h-1.1zM516.29 736.82h1.1v1.1h-1.1zM260.12 765.55h1.1v1.1h-1.1zM493.93 757.89h1.1v1.1h-1.1zM264.84 760.95h1.1v1.1h-1.1zM257.71 761.32h1.1v1.1h-1.1zM418.77 731.99h1.1v1.1h-1.1zM460.07 764.89h1.1v1.1h-1.1zM341.43 720.24h1.1v1.1h-1.1zM449.2 726.35h1.1v1.1h-1.1zM275.53 722.04h1.1v1.1h-1.1zM250.96 724.3h1.1v1.1h-1.1zM359.79 730.08h1.1v1.1h-1.1zM545.95 729.24h1.1v1.1h-1.1zM438.04 722.96h1.1v1.1h-1.1zM374.35 714.02h1.1v1.1h-1.1zM334.19 713.86h1.1v1.1h-1.1zM534.96 743.86h1.1v1.1h-1.1zM308.81 739.59h1.1v1.1h-1.1zM618.81 718.95h1.1v1.1h-1.1zM570.67 737.2h1.1v1.1h-1.1zM435.92 759.74h1.1v1.1h-1.1zM393.52 741.37h1.1v1.1h-1.1z" fill="#777"/>
<line x1="228.7" y1="711.4" x2="647.5" y2="711.4" stroke="#4d4d4d" stroke-width="1.1"/>
<line x1="228.7" y1="697" x2="228.7" y2="782.8" stroke="#4d4d4d" stroke-width="1.1"/>
<line x1="228.7" y1="793.6" x2="228.7" y2="853.5" stroke="#4d4d4d" stroke-width="1.1"/>
<line x1="647.5" y1="696.7" x2="647.5" y2="782" stroke="#4d4d4d" stroke-width="1.1"/>
<line x1="647.5" y1="794.4" x2="647.5" y2="853.5" stroke="#4d4d4d" stroke-width="1.1"/>
<polygon points="247.6,720.4 241.4,725.4 241,719" fill="none" stroke="#555" stroke-width="1.25" stroke-linejoin="miter"/>
<polygon points="286.6,725.4 280.4,730.4 280,724" fill="none" stroke="#555" stroke-width="1.25" stroke-linejoin="miter"/>
<polygon points="302.6,725.4 296.4,730.4 296,724" fill="none" stroke="#555" stroke-width="1.25" stroke-linejoin="miter"/>
<polygon points="303.6,751.9 297.4,756.9 297,750.5" fill="none" stroke="#555" stroke-width="1.25" stroke-linejoin="miter"/>
<polygon points="330.6,756.4 324.4,761.4 324,755" fill="none" stroke="#555" stroke-width="1.25" stroke-linejoin="miter"/>
<polygon points="349.4,734 355.6,729 356,735.4" fill="none" stroke="#555" stroke-width="1.25" stroke-linejoin="miter"/>
<polygon points="393.6,732.2 387.4,737.2 387,730.8" fill="none" stroke="#555" stroke-width="1.25" stroke-linejoin="miter"/>
<polygon points="402.4,739 408.6,734 409,740.4" fill="none" stroke="#555" stroke-width="1.25" stroke-linejoin="miter"/>
<polygon points="377.4,766.9 383.6,761.9 384,768.3" fill="none" stroke="#555" stroke-width="1.25" stroke-linejoin="miter"/>
<polygon points="438.6,762.2 432.4,767.2 432,760.8" fill="none" stroke="#555" stroke-width="1.25" stroke-linejoin="miter"/>
<polygon points="557.4,716.9 563.6,711.9 564,718.3" fill="none" stroke="#555" stroke-width="1.25" stroke-linejoin="miter"/>
<polygon points="609.4,718.4 615.6,713.4 616,719.8" fill="none" stroke="#555" stroke-width="1.25" stroke-linejoin="miter"/>
<polygon points="455.4,743.4 461.6,738.4 462,744.8" fill="none" stroke="#555" stroke-width="1.25" stroke-linejoin="miter"/>
<polygon points="501.6,738.7 495.4,743.7 495,737.3" fill="none" stroke="#555" stroke-width="1.25" stroke-linejoin="miter"/>
<polygon points="511.4,747.8 517.6,742.8 518,749.2" fill="none" stroke="#555" stroke-width="1.25" stroke-linejoin="miter"/>
<polygon points="573.6,749 567.4,754 567,747.6" fill="none" stroke="#555" stroke-width="1.25" stroke-linejoin="miter"/>
<polygon points="602.4,746.9 608.6,741.9 609,748.3" fill="none" stroke="#555" stroke-width="1.25" stroke-linejoin="miter"/>
<polygon points="619.4,758.1 625.6,753.1 626,759.5" fill="none" stroke="#555" stroke-width="1.25" stroke-linejoin="miter"/>
<polygon points="539.4,769.8 545.6,764.8 546,771.2" fill="none" stroke="#555" stroke-width="1.25" stroke-linejoin="miter"/>
<line x1="228.7" y1="771.1" x2="647.5" y2="771.1" stroke="#233b88" stroke-width="1.7"/>
<line x1="228.7" y1="774.9" x2="647.5" y2="774.9" stroke="#233b88" stroke-width="1.7"/>
<rect x="229" y="786" width="418" height="16" fill="#eef7fc"/>
<path d="M228.7 782.8L219.4 789L236.4 789L228.7 793.6" fill="none" stroke="#8a8a8a" stroke-width="1"/>
<path d="M647.5 782L656.5 789L640.3 789L647.5 794.4" fill="none" stroke="#8a8a8a" stroke-width="1"/>
<rect x="228.7" y="802.3" width="418.8" height="4.2" fill="#e4dcdc"/>
<line x1="228.7" y1="802.3" x2="647.5" y2="802.3" stroke="#2a2a2a" stroke-width="1.2"/>
<line x1="228.7" y1="806.5" x2="647.5" y2="806.5" stroke="#6a6a6a" stroke-width="1.1"/>
<path d="M241 797.8L244.46 792.1L244.86 791.24L245.04 790.31L245 789.36L244.74 788.44L244.27 787.61L243.63 786.92L242.84 786.39L241.94 786.06L241 785.95L240.06 786.06L239.16 786.39L238.37 786.92L237.73 787.61L237.26 788.44L237 789.36L236.96 790.31L237.14 791.24L237.54 792.1L241 797.8M250.29 797.8L253.76 792.1L254.15 791.24L254.33 790.31L254.29 789.36L254.03 788.44L253.57 787.61L252.92 786.92L252.13 786.39L251.24 786.06L250.29 785.95L249.35 786.06L248.46 786.39L247.67 786.92L247.02 787.61L246.56 788.44L246.3 789.36L246.26 790.31L246.44 791.24L246.83 792.1L250.29 797.8M259.59 797.8L263.05 792.1L263.45 791.24L263.63 790.31L263.59 789.36L263.33 788.44L262.86 787.61L262.22 786.92L261.43 786.39L260.53 786.06L259.59 785.95L258.65 786.06L257.75 786.39L256.96 786.92L256.32 787.61L255.85 788.44L255.59 789.36L255.55 790.31L255.73 791.24L256.13 792.1L259.59 797.8M268.88 797.8L272.35 792.1L272.74 791.24L272.92 790.31L272.88 789.36L272.62 788.44L272.16 787.61L271.51 786.92L270.72 786.39L269.83 786.06L268.88 785.95L267.94 786.06L267.05 786.39L266.26 786.92L265.61 787.61L265.15 788.44L264.89 789.36L264.85 790.31L265.03 791.24L265.42 792.1L268.88 797.8M278.18 797.8L281.64 792.1L282.04 791.24L282.22 790.31L282.18 789.36L281.92 788.44L281.45 787.61L280.81 786.92L280.02 786.39L279.12 786.06L278.18 785.95L277.24 786.06L276.34 786.39L275.55 786.92L274.91 787.61L274.44 788.44L274.18 789.36L274.14 790.31L274.32 791.24L274.72 792.1L278.18 797.8M287.48 797.8L290.94 792.1L291.33 791.24L291.51 790.31L291.47 789.36L291.21 788.44L290.75 787.61L290.1 786.92L289.31 786.39L288.42 786.06L287.48 785.95L286.53 786.06L285.64 786.39L284.85 786.92L284.2 787.61L283.74 788.44L283.48 789.36L283.44 790.31L283.62 791.24L284.01 792.1L287.48 797.8M296.77 797.8L300.23 792.1L300.63 791.24L300.81 790.31L300.77 789.36L300.51 788.44L300.04 787.61L299.4 786.92L298.61 786.39L297.71 786.06L296.77 785.95L295.83 786.06L294.93 786.39L294.14 786.92L293.5 787.61L293.03 788.44L292.77 789.36L292.73 790.31L292.91 791.24L293.31 792.1L296.77 797.8M306.06 797.8L309.53 792.1L309.92 791.24L310.1 790.31L310.06 789.36L309.8 788.44L309.34 787.61L308.69 786.92L307.9 786.39L307.01 786.06L306.06 785.95L305.12 786.06L304.23 786.39L303.44 786.92L302.79 787.61L302.33 788.44L302.07 789.36L302.03 790.31L302.21 791.24L302.6 792.1L306.06 797.8M315.36 797.8L318.82 792.1L319.22 791.24L319.4 790.31L319.36 789.36L319.1 788.44L318.63 787.61L317.99 786.92L317.2 786.39L316.3 786.06L315.36 785.95L314.42 786.06L313.52 786.39L312.73 786.92L312.09 787.61L311.62 788.44L311.36 789.36L311.32 790.31L311.5 791.24L311.9 792.1L315.36 797.8M324.65 797.8L328.12 792.1L328.51 791.24L328.69 790.31L328.65 789.36L328.39 788.44L327.93 787.61L327.28 786.92L326.49 786.39L325.6 786.06L324.65 785.95L323.71 786.06L322.82 786.39L322.03 786.92L321.38 787.61L320.92 788.44L320.66 789.36L320.62 790.31L320.8 791.24L321.19 792.1L324.65 797.8M333.95 797.8L337.41 792.1L337.81 791.24L337.99 790.31L337.95 789.36L337.69 788.44L337.22 787.61L336.58 786.92L335.79 786.39L334.89 786.06L333.95 785.95L333.01 786.06L332.11 786.39L331.32 786.92L330.68 787.61L330.21 788.44L329.95 789.36L329.91 790.31L330.09 791.24L330.49 792.1L333.95 797.8M343.25 797.8L346.71 792.1L347.1 791.24L347.28 790.31L347.24 789.36L346.98 788.44L346.52 787.61L345.87 786.92L345.08 786.39L344.19 786.06L343.25 785.95L342.3 786.06L341.41 786.39L340.62 786.92L339.97 787.61L339.51 788.44L339.25 789.36L339.21 790.31L339.39 791.24L339.78 792.1L343.25 797.8M352.54 797.8L356 792.1L356.4 791.24L356.58 790.31L356.54 789.36L356.28 788.44L355.81 787.61L355.17 786.92L354.38 786.39L353.48 786.06L352.54 785.95L351.6 786.06L350.7 786.39L349.91 786.92L349.27 787.61L348.8 788.44L348.54 789.36L348.5 790.31L348.68 791.24L349.08 792.1L352.54 797.8M361.83 797.8L365.3 792.1L365.69 791.24L365.87 790.31L365.83 789.36L365.57 788.44L365.11 787.61L364.46 786.92L363.67 786.39L362.78 786.06L361.83 785.95L360.89 786.06L360 786.39L359.21 786.92L358.56 787.61L358.1 788.44L357.84 789.36L357.8 790.31L357.98 791.24L358.37 792.1L361.83 797.8M371.13 797.8L374.59 792.1L374.99 791.24L375.17 790.31L375.13 789.36L374.87 788.44L374.4 787.61L373.76 786.92L372.97 786.39L372.07 786.06L371.13 785.95L370.19 786.06L369.29 786.39L368.5 786.92L367.86 787.61L367.39 788.44L367.13 789.36L367.09 790.31L367.27 791.24L367.67 792.1L371.13 797.8M380.43 797.8L383.89 792.1L384.28 791.24L384.46 790.31L384.42 789.36L384.16 788.44L383.7 787.61L383.05 786.92L382.26 786.39L381.37 786.06L380.43 785.95L379.48 786.06L378.59 786.39L377.8 786.92L377.15 787.61L376.69 788.44L376.43 789.36L376.39 790.31L376.57 791.24L376.96 792.1L380.43 797.8M389.72 797.8L393.18 792.1L393.58 791.24L393.76 790.31L393.72 789.36L393.46 788.44L392.99 787.61L392.35 786.92L391.56 786.39L390.66 786.06L389.72 785.95L388.78 786.06L387.88 786.39L387.09 786.92L386.45 787.61L385.98 788.44L385.72 789.36L385.68 790.31L385.86 791.24L386.26 792.1L389.72 797.8M399.01 797.8L402.48 792.1L402.87 791.24L403.05 790.31L403.01 789.36L402.75 788.44L402.29 787.61L401.64 786.92L400.85 786.39L399.96 786.06L399.01 785.95L398.07 786.06L397.18 786.39L396.39 786.92L395.74 787.61L395.28 788.44L395.02 789.36L394.98 790.31L395.16 791.24L395.55 792.1L399.01 797.8M408.31 797.8L411.77 792.1L412.17 791.24L412.35 790.31L412.31 789.36L412.05 788.44L411.58 787.61L410.94 786.92L410.15 786.39L409.25 786.06L408.31 785.95L407.37 786.06L406.47 786.39L405.68 786.92L405.04 787.61L404.57 788.44L404.31 789.36L404.27 790.31L404.45 791.24L404.85 792.1L408.31 797.8M417.61 797.8L421.07 792.1L421.46 791.24L421.64 790.31L421.6 789.36L421.34 788.44L420.88 787.61L420.23 786.92L419.44 786.39L418.55 786.06L417.61 785.95L416.66 786.06L415.77 786.39L414.98 786.92L414.33 787.61L413.87 788.44L413.61 789.36L413.57 790.31L413.75 791.24L414.14 792.1L417.61 797.8M426.9 797.8L430.36 792.1L430.76 791.24L430.94 790.31L430.9 789.36L430.64 788.44L430.17 787.61L429.53 786.92L428.74 786.39L427.84 786.06L426.9 785.95L425.96 786.06L425.06 786.39L424.27 786.92L423.63 787.61L423.16 788.44L422.9 789.36L422.86 790.31L423.04 791.24L423.44 792.1L426.9 797.8M436.19 797.8L439.66 792.1L440.05 791.24L440.23 790.31L440.19 789.36L439.93 788.44L439.47 787.61L438.82 786.92L438.03 786.39L437.14 786.06L436.19 785.95L435.25 786.06L434.36 786.39L433.57 786.92L432.92 787.61L432.46 788.44L432.2 789.36L432.16 790.31L432.34 791.24L432.73 792.1L436.19 797.8M445.49 797.8L448.95 792.1L449.35 791.24L449.53 790.31L449.49 789.36L449.23 788.44L448.76 787.61L448.12 786.92L447.33 786.39L446.43 786.06L445.49 785.95L444.55 786.06L443.65 786.39L442.86 786.92L442.22 787.61L441.75 788.44L441.49 789.36L441.45 790.31L441.63 791.24L442.03 792.1L445.49 797.8M454.78 797.8L458.25 792.1L458.64 791.24L458.82 790.31L458.78 789.36L458.52 788.44L458.06 787.61L457.41 786.92L456.62 786.39L455.73 786.06L454.78 785.95L453.84 786.06L452.95 786.39L452.16 786.92L451.51 787.61L451.05 788.44L450.79 789.36L450.75 790.31L450.93 791.24L451.32 792.1L454.78 797.8M464.08 797.8L467.54 792.1L467.94 791.24L468.12 790.31L468.08 789.36L467.82 788.44L467.35 787.61L466.71 786.92L465.92 786.39L465.02 786.06L464.08 785.95L463.14 786.06L462.24 786.39L461.45 786.92L460.81 787.61L460.34 788.44L460.08 789.36L460.04 790.31L460.22 791.24L460.62 792.1L464.08 797.8M473.38 797.8L476.84 792.1L477.23 791.24L477.41 790.31L477.37 789.36L477.11 788.44L476.65 787.61L476 786.92L475.21 786.39L474.32 786.06L473.38 785.95L472.43 786.06L471.54 786.39L470.75 786.92L470.1 787.61L469.64 788.44L469.38 789.36L469.34 790.31L469.52 791.24L469.91 792.1L473.38 797.8M482.67 797.8L486.13 792.1L486.53 791.24L486.71 790.31L486.67 789.36L486.41 788.44L485.94 787.61L485.3 786.92L484.51 786.39L483.61 786.06L482.67 785.95L481.73 786.06L480.83 786.39L480.04 786.92L479.4 787.61L478.93 788.44L478.67 789.36L478.63 790.31L478.81 791.24L479.21 792.1L482.67 797.8M491.97 797.8L495.43 792.1L495.82 791.24L496 790.31L495.96 789.36L495.7 788.44L495.24 787.61L494.59 786.92L493.8 786.39L492.91 786.06L491.97 785.95L491.02 786.06L490.13 786.39L489.34 786.92L488.69 787.61L488.23 788.44L487.97 789.36L487.93 790.31L488.11 791.24L488.5 792.1L491.97 797.8M501.26 797.8L504.72 792.1L505.12 791.24L505.3 790.31L505.26 789.36L505 788.44L504.53 787.61L503.89 786.92L503.1 786.39L502.2 786.06L501.26 785.95L500.32 786.06L499.42 786.39L498.63 786.92L497.99 787.61L497.52 788.44L497.26 789.36L497.22 790.31L497.4 791.24L497.8 792.1L501.26 797.8M510.56 797.8L514.02 792.1L514.41 791.24L514.59 790.31L514.55 789.36L514.29 788.44L513.83 787.61L513.18 786.92L512.39 786.39L511.5 786.06L510.56 785.95L509.61 786.06L508.72 786.39L507.93 786.92L507.28 787.61L506.82 788.44L506.56 789.36L506.52 790.31L506.7 791.24L507.09 792.1L510.56 797.8M519.85 797.8L523.31 792.1L523.71 791.24L523.89 790.31L523.85 789.36L523.59 788.44L523.12 787.61L522.48 786.92L521.69 786.39L520.79 786.06L519.85 785.95L518.91 786.06L518.01 786.39L517.22 786.92L516.58 787.61L516.11 788.44L515.85 789.36L515.81 790.31L515.99 791.24L516.39 792.1L519.85 797.8M529.14 797.8L532.61 792.1L533 791.24L533.18 790.31L533.14 789.36L532.88 788.44L532.42 787.61L531.77 786.92L530.98 786.39L530.09 786.06L529.14 785.95L528.2 786.06L527.31 786.39L526.52 786.92L525.87 787.61L525.41 788.44L525.15 789.36L525.11 790.31L525.29 791.24L525.68 792.1L529.14 797.8M538.44 797.8L541.9 792.1L542.3 791.24L542.48 790.31L542.44 789.36L542.18 788.44L541.71 787.61L541.07 786.92L540.28 786.39L539.38 786.06L538.44 785.95L537.5 786.06L536.6 786.39L535.81 786.92L535.17 787.61L534.7 788.44L534.44 789.36L534.4 790.31L534.58 791.24L534.98 792.1L538.44 797.8M547.74 797.8L551.2 792.1L551.59 791.24L551.77 790.31L551.73 789.36L551.47 788.44L551.01 787.61L550.36 786.92L549.57 786.39L548.68 786.06L547.74 785.95L546.79 786.06L545.9 786.39L545.11 786.92L544.46 787.61L544 788.44L543.74 789.36L543.7 790.31L543.88 791.24L544.27 792.1L547.74 797.8M557.03 797.8L560.49 792.1L560.89 791.24L561.07 790.31L561.03 789.36L560.77 788.44L560.3 787.61L559.66 786.92L558.87 786.39L557.97 786.06L557.03 785.95L556.09 786.06L555.19 786.39L554.4 786.92L553.76 787.61L553.29 788.44L553.03 789.36L552.99 790.31L553.17 791.24L553.57 792.1L557.03 797.8M566.33 797.8L569.79 792.1L570.18 791.24L570.36 790.31L570.32 789.36L570.06 788.44L569.6 787.61L568.95 786.92L568.16 786.39L567.27 786.06L566.33 785.95L565.38 786.06L564.49 786.39L563.7 786.92L563.05 787.61L562.59 788.44L562.33 789.36L562.29 790.31L562.47 791.24L562.86 792.1L566.33 797.8M575.62 797.8L579.08 792.1L579.48 791.24L579.66 790.31L579.62 789.36L579.36 788.44L578.89 787.61L578.25 786.92L577.46 786.39L576.56 786.06L575.62 785.95L574.68 786.06L573.78 786.39L572.99 786.92L572.35 787.61L571.88 788.44L571.62 789.36L571.58 790.31L571.76 791.24L572.16 792.1L575.62 797.8M584.91 797.8L588.38 792.1L588.77 791.24L588.95 790.31L588.91 789.36L588.65 788.44L588.19 787.61L587.54 786.92L586.75 786.39L585.86 786.06L584.91 785.95L583.97 786.06L583.08 786.39L582.29 786.92L581.64 787.61L581.18 788.44L580.92 789.36L580.88 790.31L581.06 791.24L581.45 792.1L584.91 797.8M594.21 797.8L597.67 792.1L598.07 791.24L598.25 790.31L598.21 789.36L597.95 788.44L597.48 787.61L596.84 786.92L596.05 786.39L595.15 786.06L594.21 785.95L593.27 786.06L592.37 786.39L591.58 786.92L590.94 787.61L590.47 788.44L590.21 789.36L590.17 790.31L590.35 791.24L590.75 792.1L594.21 797.8M603.5 797.8L606.97 792.1L607.36 791.24L607.54 790.31L607.5 789.36L607.24 788.44L606.78 787.61L606.13 786.92L605.34 786.39L604.45 786.06L603.5 785.95L602.56 786.06L601.67 786.39L600.88 786.92L600.23 787.61L599.77 788.44L599.51 789.36L599.47 790.31L599.65 791.24L600.04 792.1L603.5 797.8M612.8 797.8L616.26 792.1L616.66 791.24L616.84 790.31L616.8 789.36L616.54 788.44L616.07 787.61L615.43 786.92L614.64 786.39L613.74 786.06L612.8 785.95L611.86 786.06L610.96 786.39L610.17 786.92L609.53 787.61L609.06 788.44L608.8 789.36L608.76 790.31L608.94 791.24L609.34 792.1L612.8 797.8M622.1 797.8L625.56 792.1L625.95 791.24L626.13 790.31L626.09 789.36L625.83 788.44L625.37 787.61L624.72 786.92L623.93 786.39L623.04 786.06L622.1 785.95L621.15 786.06L620.26 786.39L619.47 786.92L618.82 787.61L618.36 788.44L618.1 789.36L618.06 790.31L618.24 791.24L618.63 792.1L622.1 797.8M631.39 797.8L634.85 792.1L635.25 791.24L635.43 790.31L635.39 789.36L635.13 788.44L634.66 787.61L634.02 786.92L633.23 786.39L632.33 786.06L631.39 785.95L630.45 786.06L629.55 786.39L628.76 786.92L628.12 787.61L627.65 788.44L627.39 789.36L627.35 790.31L627.53 791.24L627.93 792.1L631.39 797.8M644.15 792.1L644.54 791.24L644.72 790.31L644.68 789.36L644.42 788.44L643.96 787.61L643.31 786.92L642.52 786.39L641.63 786.06L640.68 785.95L639.74 786.06L638.85 786.39L638.06 786.92L637.41 787.61L636.95 788.44L636.69 789.36L636.65 790.31L636.83 791.24L637.22 792.1L640.68 797.8M231.71 797.8C233.65 801 239.06 801 241 797.8M241 797.8C242.94 801 248.35 801 250.29 797.8M250.29 797.8C252.24 801 257.65 801 259.59 797.8M259.59 797.8C261.53 801 266.94 801 268.88 797.8M268.88 797.8C270.83 801 276.24 801 278.18 797.8M278.18 797.8C280.12 801 285.53 801 287.48 797.8M287.48 797.8C289.42 801 294.83 801 296.77 797.8M296.77 797.8C298.71 801 304.12 801 306.06 797.8M306.06 797.8C308.01 801 313.42 801 315.36 797.8M315.36 797.8C317.3 801 322.71 801 324.66 797.8M324.65 797.8C326.6 801 332.01 801 333.95 797.8M333.95 797.8C335.89 801 341.3 801 343.25 797.8M343.25 797.8C345.19 801 350.6 801 352.54 797.8M352.54 797.8C354.48 801 359.89 801 361.83 797.8M361.83 797.8C363.78 801 369.19 801 371.13 797.8M371.13 797.8C373.07 801 378.48 801 380.43 797.8M380.43 797.8C382.37 801 387.78 801 389.72 797.8M389.72 797.8C391.66 801 397.07 801 399.02 797.8M399.01 797.8C400.96 801 406.37 801 408.31 797.8M408.31 797.8C410.25 801 415.66 801 417.61 797.8M417.61 797.8C419.55 801 424.96 801 426.9 797.8M426.9 797.8C428.84 801 434.25 801 436.19 797.8M436.19 797.8C438.14 801 443.55 801 445.49 797.8M445.49 797.8C447.43 801 452.84 801 454.79 797.8M454.78 797.8C456.73 801 462.14 801 464.08 797.8M464.08 797.8C466.02 801 471.43 801 473.38 797.8M473.38 797.8C475.32 801 480.73 801 482.67 797.8M482.67 797.8C484.61 801 490.02 801 491.96 797.8M491.97 797.8C493.91 801 499.32 801 501.26 797.8M501.26 797.8C503.2 801 508.61 801 510.56 797.8M510.56 797.8C512.5 801 517.91 801 519.85 797.8M519.85 797.8C521.79 801 527.2 801 529.14 797.8M529.14 797.8C531.09 801 536.5 801 538.44 797.8M538.44 797.8C540.38 801 545.79 801 547.74 797.8M547.74 797.8C549.68 801 555.09 801 557.03 797.8M557.03 797.8C558.97 801 564.38 801 566.32 797.8M566.33 797.8C568.27 801 573.68 801 575.62 797.8M575.62 797.8C577.56 801 582.97 801 584.91 797.8M584.91 797.8C586.86 801 592.27 801 594.21 797.8M594.21 797.8C596.15 801 601.56 801 603.5 797.8M603.5 797.8C605.45 801 610.86 801 612.8 797.8M612.8 797.8C614.74 801 620.15 801 622.09 797.8M622.1 797.8C624.04 801 629.45 801 631.39 797.8M631.39 797.8C633.33 801 638.74 801 640.68 797.8" stroke="#233b88" stroke-width="1.5" fill="none" stroke-linecap="round" stroke-linejoin="round"/>
<rect x="250.9" y="750" width="5" height="27.5" rx="1.5" fill="#aee6ee" opacity="0.6"/>
<rect x="431.5" y="750" width="5" height="27.5" rx="1.5" fill="#aee6ee" opacity="0.6"/>
<rect x="612.3" y="750" width="5" height="27.5" rx="1.5" fill="#aee6ee" opacity="0.6"/>
<line x1="248" y1="733" x2="614.8" y2="733" stroke="#426f5b" stroke-width="1.5"/>
<line x1="253.4" y1="725.3" x2="253.4" y2="740" stroke="#426f5b" stroke-width="1.8"/>
<line x1="434" y1="725.3" x2="434" y2="740" stroke="#426f5b" stroke-width="1.8"/>
<line x1="614.8" y1="725.3" x2="614.8" y2="740" stroke="#426f5b" stroke-width="1.8"/>
<text x="333.8" y="729.4" font-size="13.5" fill="#5a5a5a" textLength="19.5" lengthAdjust="spacingAndGlyphs">600</text>
<text x="514.8" y="728.5" font-size="13.5" fill="#5a5a5a" textLength="19.5" lengthAdjust="spacingAndGlyphs">600</text>
<line x1="205" y1="770.9" x2="205" y2="800.9" stroke="#426f5b" stroke-width="1.6"/>
<line x1="197" y1="770.9" x2="219.4" y2="770.9" stroke="#426f5b" stroke-width="1.6"/>
<line x1="197" y1="800.9" x2="219.4" y2="800.9" stroke="#426f5b" stroke-width="1.6"/>
<text x="200.9" y="795.5" font-size="13.5" fill="#5a5a5a" textLength="19" lengthAdjust="spacingAndGlyphs" transform="rotate(-90 200.9 795.5)">100</text>
<circle cx="455.9" cy="789.2" r="1.5" fill="#3c8a5a"/><circle cx="347.9" cy="789.2" r="1.3" fill="#3c8a5a"/>
<line x1="456.6" y1="789" x2="456.6" y2="800" stroke="#426f5b" stroke-width="1.3"/>
<line x1="275.3" y1="815.3" x2="275.3" y2="854.1" stroke="#426f5b" stroke-width="1.5"/>
<line x1="270.6" y1="846.1" x2="460.6" y2="846.1" stroke="#426f5b" stroke-width="1.5"/>
<text x="355.9" y="842.1" font-size="14" fill="#5a5a5a" textLength="19.7" lengthAdjust="spacingAndGlyphs">600</text>
<line x1="347.9" y1="790" x2="347.9" y2="923.3" stroke="#426f5b" stroke-width="1.4"/>
<line x1="456.6" y1="806" x2="456.6" y2="924.3" stroke="#426f5b" stroke-width="1.4"/>
<line x1="293" y1="894.6" x2="347.9" y2="894.6" stroke="#426f5b" stroke-width="1.4"/>
<line x1="272.5" y1="923" x2="347.9" y2="923" stroke="#426f5b" stroke-width="1.4"/>
<line x1="456.6" y1="894.6" x2="547" y2="894.6" stroke="#426f5b" stroke-width="1.4"/>
<line x1="456.6" y1="924" x2="530" y2="924" stroke="#426f5b" stroke-width="1.4"/>
<line x1="269.8" y1="801.3" x2="280.8" y2="801.3" stroke="#1e1e1e" stroke-width="1.6"/>
<line x1="270.8" y1="804.4" x2="279.3" y2="804.4" stroke="#222" stroke-width="1.3"/>
<line x1="275.3" y1="799" x2="275.3" y2="808.5" stroke="#222" stroke-width="1.3"/>
<rect x="268.3" y="796" width="2.4" height="6.5" fill="#c870a0"/>
<line x1="451" y1="801.3" x2="462" y2="801.3" stroke="#1e1e1e" stroke-width="1.6"/>
<line x1="452" y1="804.4" x2="460.5" y2="804.4" stroke="#222" stroke-width="1.3"/>
<line x1="456.5" y1="799" x2="456.5" y2="808.5" stroke="#222" stroke-width="1.3"/>
<rect x="449.5" y="796" width="2.4" height="6.5" fill="#c870a0"/>
<line x1="631.7" y1="801.3" x2="642.7" y2="801.3" stroke="#1e1e1e" stroke-width="1.6"/>
<line x1="632.7" y1="804.4" x2="641.2" y2="804.4" stroke="#222" stroke-width="1.3"/>
<line x1="637.2" y1="799" x2="637.2" y2="808.5" stroke="#222" stroke-width="1.3"/>
<rect x="630.2" y="796" width="2.4" height="6.5" fill="#c870a0"/>
<text x="233.6" y="886.2" font-size="18.6" textLength="24.5" lengthAdjust="spacingAndGlyphs" fill="#222">50</text><text x="257.8" y="887.2" font-size="20" letter-spacing="2" fill="#262626" stroke="#262626" stroke-width="0.15">厚吸声棉</text>
<text x="172.4" y="914.6" font-size="18.6" textLength="64.5" lengthAdjust="spacingAndGlyphs" fill="#222">15mm</text><text x="237" y="915.6" font-size="20" letter-spacing="2" fill="#262626" stroke="#262626" stroke-width="0.15">孔木吸声板</text>
<text x="464" y="886.2" font-size="20" letter-spacing="2" fill="#262626" stroke="#262626" stroke-width="0.15">横向</text><text x="506.8" y="885.2" font-size="18.6" textLength="36" lengthAdjust="spacingAndGlyphs" fill="#222">100</text><text x="543.5" y="886.2" font-size="20" letter-spacing="2" fill="#262626" stroke="#262626" stroke-width="0.15">系列轻钢龙骨</text>
<text x="463.5" y="915.2" font-size="20" letter-spacing="2" fill="#262626" stroke="#262626" stroke-width="0.15">竖向工字型龙骨</text>
<line x1="370.4" y1="99.8" x2="374" y2="103.8" stroke="#426f5b" stroke-width="1.9"/>
<line x1="400.7" y1="99.8" x2="404.3" y2="103.8" stroke="#426f5b" stroke-width="1.9"/>
<line x1="272.9" y1="271.8" x2="276.5" y2="275.8" stroke="#426f5b" stroke-width="1.9"/>
<line x1="272.9" y1="451.4" x2="276.5" y2="455.4" stroke="#426f5b" stroke-width="1.9"/>
<line x1="251.5" y1="730.9" x2="255.1" y2="734.9" stroke="#426f5b" stroke-width="1.9"/>
<line x1="432.1" y1="730.9" x2="435.7" y2="734.9" stroke="#426f5b" stroke-width="1.9"/>
<line x1="612.9" y1="730.9" x2="616.5" y2="734.9" stroke="#426f5b" stroke-width="1.9"/>
<line x1="203.1" y1="768.8" x2="206.7" y2="772.8" stroke="#426f5b" stroke-width="1.9"/>
<line x1="203.1" y1="798.8" x2="206.7" y2="802.8" stroke="#426f5b" stroke-width="1.9"/>
<line x1="273.4" y1="844" x2="277" y2="848" stroke="#426f5b" stroke-width="1.9"/>
<line x1="454.7" y1="844" x2="458.3" y2="848" stroke="#426f5b" stroke-width="1.9"/>
<g fill="none" stroke="#383838" stroke-width="1.9" stroke-linejoin="round"><path d="M229.2 34.7H239.6L237.1 42.9V57.3Q237.1 59.6 234.8 59.6H230.2"/><path d="M228.8 48.4L242.4 45.2"/><path d="M247.6 34.1V56.6Q247.6 59.6 250.6 59.6H255"/><path d="M261.7 38.3H287.3"/><path d="M274.5 33.7V60.1"/><path d="M271.2 39.6Q268.6 51.5 261.8 58.8"/><path d="M278.3 39.6L287.3 58.8"/><path d="M296.9 34.6H297.1Q300.2 34.6 300.2 37.7V55.1Q300.2 58.2 297.1 58.2H296.9Q293.8 58.2 293.8 55.1V37.7Q293.8 34.6 296.9 34.6Z"/><path d="M305.4 34.6L303.8 59.7"/><path d="M305.4 34.6H319.4L312.5 44.5H319.4L308.4 59.6"/><path d="M313.3 52.4L319.4 59.6"/><path d="M327 35.6H351.8"/><path d="M339.5 33.6V41.1"/><path d="M328.5 41.1H350.6"/><path d="M327.8 46.4H348.4Q350.7 46.4 350.7 48.7V51.3H327.8"/><path d="M327.8 46.4V54.5Q327.8 57.5 327 59.8"/><path d="M339.5 46.4V51.3"/><path d="M364.3 34.6L359.6 45.4L364.1 44.9L359.4 53.9L365.8 53.3"/><path d="M358.4 58.6L366.9 58.4"/><path d="M368.8 37.2H384.8"/><path d="M376.8 34V44.8"/><path d="M369.6 44.8H384.1"/><path d="M371.7 48.4H381.1Q383.6 48.4 383.6 50.9V57.5Q383.6 60 381.1 60H371.7Q369.2 60 369.2 57.5V50.9Q369.2 48.4 371.7 48.4Z"/><path d="M391 37.8H401"/><path d="M396.2 33.4V59.8"/><path d="M393 40.8L391.2 59.6"/><path d="M399.8 40.6V59.6"/><path d="M404.8 34.4L403.8 37H414.8Q416.6 37 416.6 38.8V57.9Q416.6 59.8 414.7 59.8H410.8"/><path d="M407.8 40.4L404 54H410.8Q412.4 54 412.4 52.4V48.2"/><path d="M528.6 33.8V37"/><path d="M521.4 37H536.6"/><path d="M523.4 40V45.2"/><path d="M534.2 40V45.2"/><path d="M520.2 45.2H537"/><path d="M524.3 49.2H533.3Q535.8 49.2 535.8 51.7V57.1Q535.8 59.6 533.3 59.6H524.3Q521.8 59.6 521.8 57.1V51.7Q521.8 49.2 524.3 49.2Z"/><path d="M540.6 36V54.4"/><path d="M546.2 33.6V57Q546.2 60 543.2 60H540.4"/><path d="M553.4 34.8H579"/><path d="M565.4 36L564.2 40"/><path d="M559.3 40H573.5Q577 40 577 43.5V56.5Q577 60 573.5 60H559.3Q555.8 60 555.8 56.5V43.5Q555.8 40 559.3 40Z"/><path d="M561.4 40V60"/><path d="M570.6 40V60"/><path d="M561.4 46.8H570.6"/><path d="M561.4 53.2H570.6"/></g><g fill="none" stroke="#3a7157" stroke-width="2.4" stroke-linejoin="round"><path d="M426.8 22.8V39.3"/><path d="M434.5 21.6V39.3"/><path d="M441.5 22.8H461.5L440.4 39.3"/><path d="M443.9 28.1L462.7 39.9"/><path d="M427.4 46.4H461.5"/><path d="M444 43.2V46.4"/><path d="M432.7 50.5L435.6 57.5"/><path d="M454.5 50.5L451.5 57.5"/><path d="M424.5 60.5H463.9"/><path d="M480.9 21V26.4"/><path d="M474.5 61V31.4Q474.5 26.4 479.5 26.4H506Q511 26.4 511 31.4V56Q511 61 506 61H504.5"/><path d="M485.6 35.2H499.8Q503.3 35.2 503.3 38.7V49.9Q503.3 53.4 499.8 53.4H485.6Q482.1 53.4 482.1 49.9V38.7Q482.1 35.2 485.6 35.2Z"/></g><g transform="translate(26 617.5)"><g fill="none" stroke="#383838" stroke-width="1.9" stroke-linejoin="round"><path d="M229.2 34.7H239.6L237.1 42.9V57.3Q237.1 59.6 234.8 59.6H230.2"/><path d="M228.8 48.4L242.4 45.2"/><path d="M247.6 34.1V56.6Q247.6 59.6 250.6 59.6H255"/><path d="M261.7 38.3H287.3"/><path d="M274.5 33.7V60.1"/><path d="M271.2 39.6Q268.6 51.5 261.8 58.8"/><path d="M278.3 39.6L287.3 58.8"/><path d="M296.9 34.6H297.1Q300.2 34.6 300.2 37.7V55.1Q300.2 58.2 297.1 58.2H296.9Q293.8 58.2 293.8 55.1V37.7Q293.8 34.6 296.9 34.6Z"/><path d="M305.4 34.6L303.8 59.7"/><path d="M305.4 34.6H319.4L312.5 44.5H319.4L308.4 59.6"/><path d="M313.3 52.4L319.4 59.6"/><path d="M327 35.6H351.8"/><path d="M339.5 33.6V41.1"/><path d="M328.5 41.1H350.6"/><path d="M327.8 46.4H348.4Q350.7 46.4 350.7 48.7V51.3H327.8"/><path d="M327.8 46.4V54.5Q327.8 57.5 327 59.8"/><path d="M339.5 46.4V51.3"/><path d="M364.3 34.6L359.6 45.4L364.1 44.9L359.4 53.9L365.8 53.3"/><path d="M358.4 58.6L366.9 58.4"/><path d="M368.8 37.2H384.8"/><path d="M376.8 34V44.8"/><path d="M369.6 44.8H384.1"/><path d="M371.7 48.4H381.1Q383.6 48.4 383.6 50.9V57.5Q383.6 60 381.1 60H371.7Q369.2 60 369.2 57.5V50.9Q369.2 48.4 371.7 48.4Z"/><path d="M391 37.8H401"/><path d="M396.2 33.4V59.8"/><path d="M393 40.8L391.2 59.6"/><path d="M399.8 40.6V59.6"/><path d="M404.8 34.4L403.8 37H414.8Q416.6 37 416.6 38.8V57.9Q416.6 59.8 414.7 59.8H410.8"/><path d="M407.8 40.4L404 54H410.8Q412.4 54 412.4 52.4V48.2"/><path d="M528.6 33.8V37"/><path d="M521.4 37H536.6"/><path d="M523.4 40V45.2"/><path d="M534.2 40V45.2"/><path d="M520.2 45.2H537"/><path d="M524.3 49.2H533.3Q535.8 49.2 535.8 51.7V57.1Q535.8 59.6 533.3 59.6H524.3Q521.8 59.6 521.8 57.1V51.7Q521.8 49.2 524.3 49.2Z"/><path d="M540.6 36V54.4"/><path d="M546.2 33.6V57Q546.2 60 543.2 60H540.4"/><path d="M553.4 34.8H579"/><path d="M565.4 36L564.2 40"/><path d="M559.3 40H573.5Q577 40 577 43.5V56.5Q577 60 573.5 60H559.3Q555.8 60 555.8 56.5V43.5Q555.8 40 559.3 40Z"/><path d="M561.4 40V60"/><path d="M570.6 40V60"/><path d="M561.4 46.8H570.6"/><path d="M561.4 53.2H570.6"/></g><g fill="none" stroke="#3a7157" stroke-width="2.4" stroke-linejoin="round"><path d="M480.9 21V26.4"/><path d="M474.5 61V31.4Q474.5 26.4 479.5 26.4H506Q511 26.4 511 31.4V56Q511 61 506 61H504.5"/><path d="M485.6 35.2H499.8Q503.3 35.2 503.3 38.7V49.9Q503.3 53.4 499.8 53.4H485.6Q482.1 53.4 482.1 49.9V38.7Q482.1 35.2 485.6 35.2Z"/></g></g><g fill="none" stroke="#3a7157" stroke-width="2.4" stroke-linejoin="round"><path d="M450.5 644.9H465.2"/><path d="M458.1 638.5V677.9"/><path d="M452.8 650.2L449.9 677.3"/><path d="M461 652L464.5 656"/><path d="M467.5 643.8H489.3"/><path d="M473.4 638.5V647.3"/><path d="M484.6 638.5V647.3"/><path d="M466.9 650.8H489.3"/><path d="M472.9 655.5H485.1Q488.1 655.5 488.1 658.5V667.8Q488.1 670.8 485.1 670.8H472.9Q469.9 670.8 469.9 667.8V658.5Q469.9 655.5 472.9 655.5Z"/><path d="M478.9 650.8V670.8"/><path d="M469.9 663.2H488.1"/><path d="M472.2 673.2L468.1 677.3"/><path d="M484 673.2L489.3 677.3"/></g>
</svg>
</body></html>
